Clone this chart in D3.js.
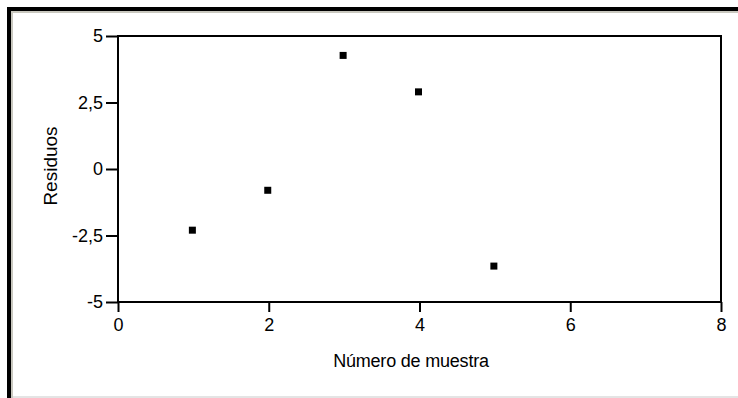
<!DOCTYPE html>
<html>
<head>
<meta charset="utf-8">
<script src="https://cdn.jsdelivr.net/npm/d3@7"></script>
<style>
  html, body { margin: 0; padding: 0; background: #fff; }
  svg { display: block; }
</style>
</head>
<body>
<svg id="chart" width="738" height="398"></svg>
<script>
// Residuals by sample number
const muestra = [1, 2, 3, 4, 5];
const residuos = [-2.3, -0.8, 4.27, 2.9, -3.65];
const xTicks = [0, 2, 4, 6, 8];
const yTicks = [-5, -2.5, 0, 2.5, 5];
const yTickLabels = ["-5", "-2,5", "0", "2,5", "5"];

const svg = d3.select("#chart");
const W = 738, H = 398;
const plot = { left: 118, right: 721, top: 36, bottom: 302 };

// window frame: heavy black edge on top/left, thin bevel lines inside
svg.append("rect").attr("x", 7).attr("y", 7).attr("width", W - 7).attr("height", 4).attr("fill", "#000");
svg.append("rect").attr("x", 7).attr("y", 7).attr("width", 4).attr("height", H - 7).attr("fill", "#000");
svg.append("rect").attr("x", 11).attr("y", 11).attr("width", W - 11).attr("height", 2).attr("fill", "#c9c8bf");
svg.append("rect").attr("x", 11).attr("y", 11).attr("width", 2).attr("height", H - 11).attr("fill", "#c9c8bf");
svg.append("rect").attr("x", 13).attr("y", 396).attr("width", W - 13).attr("height", 2).attr("fill", "#e4e4e4");

const x = d3.scaleLinear().domain([0, 8]).range([plot.left, plot.right]);
const y = d3.scaleLinear().domain([-5, 5]).range([plot.bottom, plot.top]);

const font = "'Liberation Sans', Arial, sans-serif";

// plot box
svg.append("rect")
  .attr("x", plot.left).attr("y", plot.top)
  .attr("width", plot.right - plot.left).attr("height", plot.bottom - plot.top)
  .attr("fill", "none").attr("stroke", "#000").attr("stroke-width", 2);

const xAxis = svg.append("g")
  .attr("transform", `translate(0,${plot.bottom})`)
  .call(d3.axisBottom(x).tickValues(xTicks).tickSize(10).tickPadding(6).tickFormat(d3.format("d")));
const yAxis = svg.append("g")
  .attr("transform", `translate(${plot.left},0)`)
  .call(d3.axisLeft(y).tickValues(yTicks).tickSize(12).tickPadding(3)
    .tickFormat((d, i) => yTickLabels[i]));

[xAxis, yAxis].forEach(g => {
  g.select(".domain").remove();
  g.selectAll(".tick line").attr("stroke", "#000").attr("stroke-width", 2);
  g.selectAll(".tick text").attr("fill", "#000").style("font-family", font).style("font-size", "18px");
});

svg.append("text")
  .attr("x", 411).attr("y", 367)
  .attr("text-anchor", "middle")
  .style("font-family", font).style("font-size", "18px").style("letter-spacing", "-0.2px")
  .text("Número de muestra");

svg.append("text")
  .attr("transform", `translate(57,166) rotate(-90)`)
  .attr("text-anchor", "middle")
  .style("font-family", font).style("font-size", "19px")
  .text("Residuos");

// points
svg.append("g").selectAll("rect")
  .data(muestra.map((m, i) => ({ m, r: residuos[i] })))
  .join("rect")
  .attr("x", d => x(d.m) - 3.5 - 1)
  .attr("y", d => y(d.r) - 3.5)
  .attr("width", 7).attr("height", 7)
  .attr("fill", "#000");
</script>
</body>
</html>
